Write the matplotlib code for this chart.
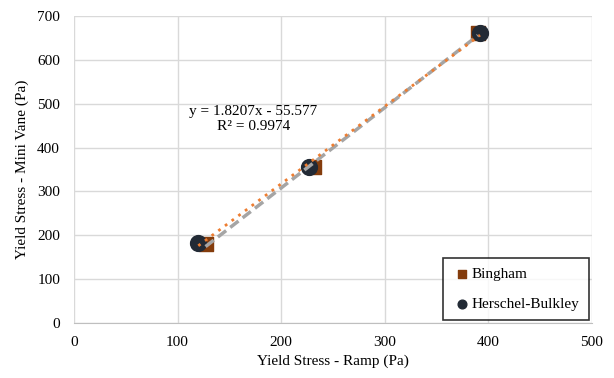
import matplotlib
matplotlib.use('Agg')
import matplotlib.pyplot as plt
import numpy as np

plt.rcParams['font.family'] = ['Liberation Serif', 'DejaVu Serif']

# 数据
bingham_x = [127, 232, 390]
bingham_y = [181, 355, 660]
hb_x = [120, 227, 392]
hb_y = [182, 355, 660]

x_ticks = [0, 100, 200, 300, 400, 500]
y_ticks = [0, 100, 200, 300, 400, 500, 600, 700]

fs = 11

fig, ax = plt.subplots(figsize=(6.14, 3.78), dpi=100)
plt.subplots_adjust(left=0.1205, right=0.964, top=0.958, bottom=0.1455)

ax.scatter(bingham_x, bingham_y, marker='s', s=110, color='#843C0C', label='Bingham', zorder=3)
ax.scatter(hb_x, hb_y, marker='o', s=130, color='#222A35', label='Herschel-Bulkley', zorder=3)

# 趋势线
for xs, ys, style in [(bingham_x, bingham_y, dict(color='#A5A5A5', linestyle=(0, (3, 1.5)), linewidth=2.5)),
                      (hb_x, hb_y, dict(color='#ED7D31', linestyle=(0, (1, 2)), linewidth=2.0))]:
    k, b = np.polyfit(xs, ys, 1)
    xx = np.array([min(xs), max(xs)])
    ax.plot(xx, k * xx + b, zorder=4, **style)

ax.text(173, 466, 'y = 1.8207x - 55.577\nR² = 0.9974', ha='center', va='center',
        multialignment='center', fontsize=fs, linespacing=1.2)

ax.set_xlim(0, 500)
ax.set_ylim(0, 700)
ax.set_xticks(x_ticks)
ax.set_yticks(y_ticks)
ax.grid(True, color='#D9D9D9', linewidth=1)
ax.set_axisbelow(True)
for s in ['top', 'right', 'left']:
    ax.spines[s].set_visible(False)
ax.spines['bottom'].set_color('#BFBFBF')
ax.tick_params(length=0, labelsize=fs, pad=9)
ax.tick_params(axis='y', pad=10)
ax.set_xlabel('Yield Stress - Ramp (Pa)', fontsize=fs, labelpad=4)
ax.set_ylabel('Yield Stress - Mini Vane (Pa)', fontsize=fs, labelpad=6)

leg = ax.legend(loc='lower right', fontsize=fs, frameon=True, fancybox=False,
                handletextpad=0.0, handlelength=1.3, markerscale=0.55,
                borderpad=0.6, borderaxespad=0.2, labelspacing=1.05)
leg.get_frame().set_edgecolor('black')
leg.get_frame().set_linewidth(1.2)

fig.savefig('out.png', dpi=100)
